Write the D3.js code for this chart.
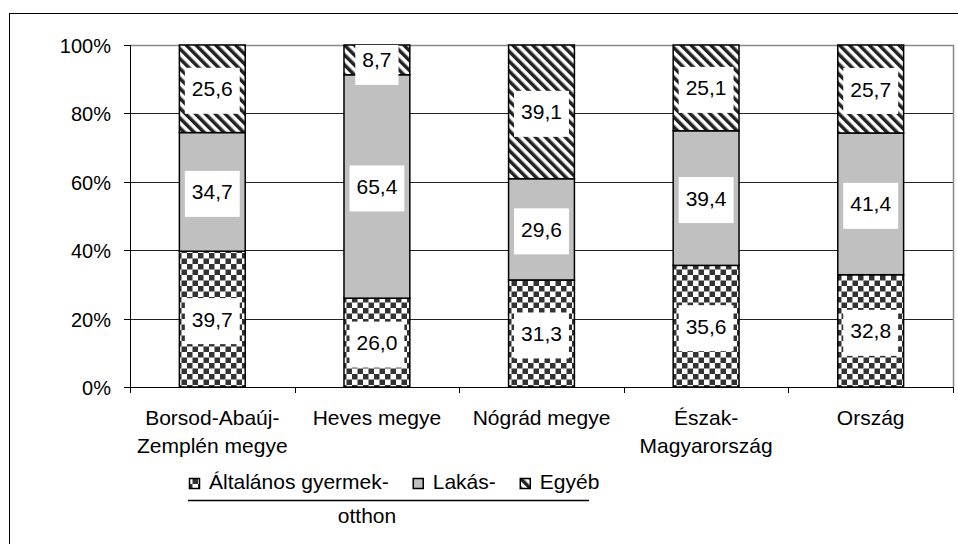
<!DOCTYPE html>
<html>
<head>
<meta charset="utf-8">
<script src="https://cdn.jsdelivr.net/npm/d3@7"></script>
<style>
  body { margin: 0; background: #fff; }
  svg { display: block; font-family: "Liberation Sans", Arial, sans-serif; }
</style>
</head>
<body>
<div id="chart"></div>
<script>
// Data
const categories = [["Borsod-Abaúj-", "Zemplén megye"], ["Heves megye"], ["Nógrád megye"], ["Észak-", "Magyarország"], ["Ország"]];
const seriesNames = ["Általános gyermek-", "Lakás-", "Egyéb"];
const gyermekotthon = [39.7, 26.0, 31.3, 35.6, 32.8];
const lakas = [34.7, 65.4, 29.6, 39.4, 41.4];
const egyeb = [25.6, 8.7, 39.1, 25.1, 25.7];
const yTicks = [0, 0.2, 0.4, 0.6, 0.8, 1];

const W = 958, H = 544;
const plot = { left: 130, right: 953, top: 45, bottom: 387 };

const svg = d3.select("#chart").append("svg")
  .attr("width", W).attr("height", H);

// patterns
const defs = svg.append("defs");
const checker = defs.append("pattern")
  .attr("id", "checker").attr("patternUnits", "userSpaceOnUse")
  .attr("width", 11).attr("height", 11);
checker.append("rect").attr("width", 11).attr("height", 11).attr("fill", "#fff");
checker.append("rect").attr("width", 5.5).attr("height", 5.5).attr("fill", "#333");
checker.append("rect").attr("x", 5.5).attr("y", 5.5).attr("width", 5.5).attr("height", 5.5).attr("fill", "#333");

const stripes = defs.append("pattern")
  .attr("id", "stripes").attr("patternUnits", "userSpaceOnUse")
  .attr("width", 7).attr("height", 7)
  .attr("patternTransform", "rotate(-45)");
stripes.append("rect").attr("width", 7).attr("height", 7).attr("fill", "#fff");
stripes.append("rect").attr("width", 3.5).attr("height", 7).attr("fill", "#222");

const fills = ["url(#checker)", "#c0c0c0", "url(#stripes)"];

// outer frame
svg.append("rect")
  .attr("x", 9.5).attr("y", 13.5)
  .attr("width", W + 20).attr("height", H + 20)
  .attr("fill", "none").attr("stroke", "#000").attr("stroke-width", 1);

const x = d3.scaleBand()
  .domain(d3.range(categories.length))
  .range([plot.left, plot.right])
  .paddingInner(0.6).paddingOuter(0.3);

const y = d3.scaleLinear().domain([0, 1]).range([plot.bottom, plot.top]);

// gridlines
svg.append("g")
  .selectAll("line")
  .data(yTicks.slice(1, -1))
  .join("line")
  .attr("x1", plot.left).attr("x2", plot.right)
  .attr("y1", d => Math.round(y(d)) + 0.5).attr("y2", d => Math.round(y(d)) + 0.5)
  .attr("stroke", "#222").attr("stroke-width", 1);

// plot area border (top/right)
svg.append("path")
  .attr("d", `M${plot.left},${plot.top + 0.5}H${plot.right + 0.5}V${plot.bottom}`)
  .attr("fill", "none").attr("stroke", "#888").attr("stroke-width", 1.5);

// stacked data (percent)
const rows = categories.map((c, i) => {
  const vals = [gyermekotthon[i], lakas[i], egyeb[i]];
  const total = d3.sum(vals);
  let acc = 0;
  return vals.map((v, k) => {
    const y0 = acc / total; acc += v;
    return { i, k, v, y0, y1: acc / total };
  });
});
const segs = rows.flat();

svg.append("g")
  .selectAll("rect")
  .data(segs)
  .join("rect")
  .attr("x", d => x(d.i))
  .attr("width", x.bandwidth())
  .attr("y", d => y(d.y1))
  .attr("height", d => y(d.y0) - y(d.y1))
  .attr("fill", d => fills[d.k])
  .attr("stroke", "#000").attr("stroke-width", 1.5);

// data labels
const labelG = svg.append("g");
segs.forEach(d => {
  const cx = x(d.i) + x.bandwidth() / 2;
  const cy = (y(d.y0) + y(d.y1)) / 2;
  const g = labelG.append("g");
  const t = g.append("text")
    .attr("x", cx).attr("y", cy)
    .attr("dy", "0.36em")
    .attr("text-anchor", "middle")
    .attr("font-size", 21)
    .attr("fill", "#000")
    .text(d.v.toFixed(1).replace(".", ","));
  const tw = t.node().getComputedTextLength();
  const top = Math.max(plot.top, cy - 21);
  g.insert("rect", "text")
    .attr("x", cx - tw / 2 - 7).attr("width", tw + 14)
    .attr("y", top).attr("height", cy + 25 - top)
    .attr("fill", "#fff");
});

// y axis
const yAxis = svg.append("g");
yAxis.append("line")
  .attr("x1", plot.left + 0.5).attr("x2", plot.left + 0.5)
  .attr("y1", plot.top).attr("y2", plot.bottom)
  .attr("stroke", "#000");
yAxis.selectAll("g.tick")
  .data(yTicks)
  .join("g")
  .attr("class", "tick")
  .each(function(d) {
    const yy = Math.round(y(d)) + 0.5;
    d3.select(this).append("line")
      .attr("x1", plot.left - 6).attr("x2", plot.left)
      .attr("y1", yy).attr("y2", yy).attr("stroke", "#000");
    d3.select(this).append("text")
      .attr("x", plot.left - 19).attr("y", yy).attr("dy", "0.36em")
      .attr("text-anchor", "end").attr("font-size", 20)
      .text(d3.format(".0%")(d));
  });

// x axis
const xAxis = svg.append("g");
xAxis.append("line")
  .attr("x1", plot.left).attr("x2", plot.right + 0.5)
  .attr("y1", plot.bottom + 0.5).attr("y2", plot.bottom + 0.5)
  .attr("stroke", "#000");
const step = x.step();
xAxis.selectAll("line.tk")
  .data(d3.range(categories.length + 1))
  .join("line")
  .attr("class", "tk")
  .attr("x1", i => Math.round(plot.left + i * step) + 0.5)
  .attr("x2", i => Math.round(plot.left + i * step) + 0.5)
  .attr("y1", plot.bottom).attr("y2", plot.bottom + 6)
  .attr("stroke", "#000");
categories.forEach((lines, i) => {
  const t = xAxis.append("text")
    .attr("x", x(i) + x.bandwidth() / 2)
    .attr("y", 425)
    .attr("text-anchor", "middle")
    .attr("font-size", 21);
  lines.forEach((ln, j) => {
    t.append("tspan")
      .attr("x", x(i) + x.bandwidth() / 2)
      .attr("y", 425 + j * 28)
      .text(ln);
  });
});

// legend
const legend = svg.append("g");
let lx = 189;
seriesNames.forEach((name, k) => {
  legend.append("rect")
    .attr("x", lx + 0.5).attr("y", 478.5)
    .attr("width", 10).attr("height", 10)
    .attr("fill", fills[k]).attr("stroke", "#000").attr("stroke-width", 1.5);
  const t = legend.append("text")
    .attr("x", lx + 20).attr("y", 489)
    .attr("font-size", 21)
    .text(name);
  lx += 20 + t.node().getComputedTextLength() + 24;
});
legend.append("line")
  .attr("x1", 188).attr("x2", 589)
  .attr("y1", 500.5).attr("y2", 500.5)
  .attr("stroke", "#000").attr("stroke-width", 1.5);
legend.append("text")
  .attr("x", 367).attr("y", 523)
  .attr("text-anchor", "middle")
  .attr("font-size", 21)
  .text("otthon");
</script>
</body>
</html>
